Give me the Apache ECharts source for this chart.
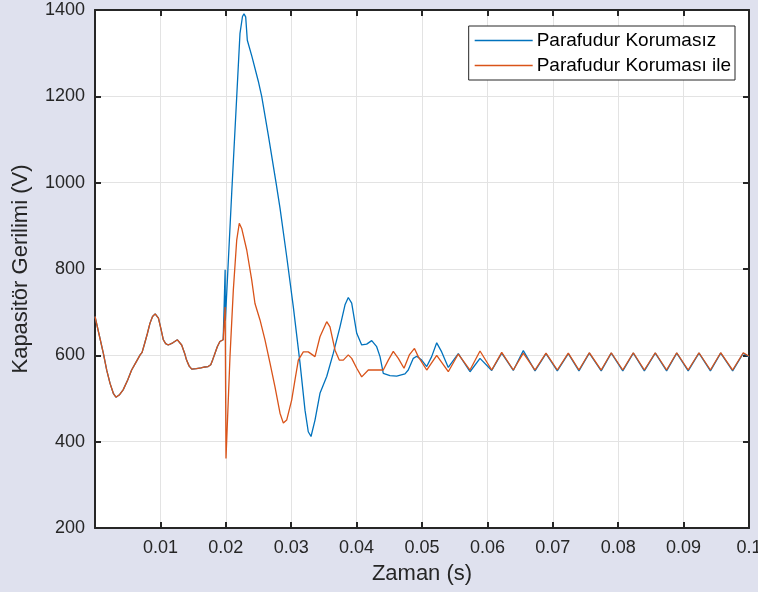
<!DOCTYPE html>
<html>
<head>
<meta charset="utf-8">
<script src="https://cdn.jsdelivr.net/npm/echarts@6/dist/echarts.min.js"></script>
<style>
html,body{margin:0;padding:0;background:#dfe1ee;}
#c{width:758px;height:592px;}
</style>
</head>
<body>
<div id="c"></div>
<script>
// ---- data (time in s, voltage in V) ----
var seriesNames = ['Parafudur Korumasız', 'Parafudur Koruması ile'];
var xTicks = [0, 0.01, 0.02, 0.03, 0.04, 0.05, 0.06, 0.07, 0.08, 0.09, 0.1];
var yTicks = [200, 400, 600, 800, 1000, 1200, 1400];

// shared part before the disturbance (both curves identical)
var sharedPart = [
  [0,690],[0.0006,650],[0.00127,605],[0.0018,565],[0.0023,535],[0.0028,512],[0.0032,503],
  [0.0037,508],[0.0043,520],[0.005,543],[0.0056,566],[0.0063,585],[0.0069,601],[0.0072,607],
  [0.0076,628],[0.008,650],[0.0084,674],[0.0088,690],[0.0092,696],[0.0097,686],[0.0101,660],
  [0.01045,636],[0.0108,627],[0.0112,624],[0.0119,629],[0.0126,636],[0.0129,632],[0.01325,624],
  [0.0137,605],[0.014,589],[0.0144,575],[0.0148,568],[0.0155,569],[0.0162,571],[0.0168,573],
  [0.0173,574],[0.0177,578],[0.018,590],[0.01835,605],[0.0187,620],[0.0191,632],[0.0196,636],
  [0.0198,632],[0.01985,636]
];

// without arrester (blue) after the disturbance
var blueTransient = [
  [0.0199,798],[0.01993,680],[0.02003,678],[0.0209,975],[0.02167,1199],[0.02217,1346],
  [0.02255,1385],[0.02278,1391],[0.02304,1384],[0.02329,1330],[0.024,1292],[0.02497,1235],
  [0.02549,1200],[0.0265,1110],[0.02768,1000],[0.02829,941],[0.02931,829],[0.03032,713],
  [0.03135,582],[0.03211,473],[0.03261,423],[0.03303,412],[0.03364,450],[0.0344,512],
  [0.03543,551],[0.03644,605],[0.03746,666],[0.03823,717],[0.03873,734],[0.03925,721],
  [0.04002,651],[0.04078,624],[0.04154,626],[0.04231,634],[0.04307,620],[0.04358,597],
  [0.04408,558],[0.0451,553],[0.04613,552],[0.0474,557],[0.0479,566],[0.04867,593],
  [0.04919,598],[0.04995,589],[0.05072,574],[0.05148,597],[0.05225,629],[0.05301,608]
];
var blueSteady = [
  [0.05402,572],[0.05555,604],[0.05734,562],[0.05887,593],[0.06066,565],[0.06219,605],
  [0.06396,565],[0.06549,611],[0.06728,564],[0.06896,604],[0.07069,564],[0.07237,604],
  [0.074,564],[0.07558,605],[0.0774,564],[0.07894,605],[0.0807,564],[0.08231,605],
  [0.084,564],[0.08567,605],[0.0874,564],[0.08895,605],[0.0907,564],[0.09235,605],
  [0.0941,564],[0.09567,605],[0.0975,564],[0.09913,605],[0.1,596]
];

// with arrester (orange) after the disturbance
var orangeTransient = [
  [0.0199,712],[0.02003,361],[0.02064,597],[0.02115,751],[0.02167,867],[0.02206,906],
  [0.02243,894],[0.0232,844],[0.02396,775],[0.02446,720],[0.02523,682],[0.02599,636],
  [0.02676,582],[0.02752,527],[0.02829,466],[0.0288,443],[0.02931,450],[0.03008,497],
  [0.03058,543],[0.03109,589],[0.03185,608],[0.03261,608],[0.03364,597],[0.0344,643],
  [0.03543,678],[0.03593,666],[0.0367,612],[0.03735,589],[0.03797,589],[0.03873,601],
  [0.03925,593],[0.04002,570],[0.04078,550],[0.04179,566],[0.04307,566],[0.04408,566],
  [0.04485,589],[0.04561,609],[0.04638,593],[0.04725,570],[0.04806,601],[0.04885,616],
  [0.04943,597],[0.05072,566],[0.05225,600]
];
var orangeSteady = [
  [0.05402,562],[0.05555,603],[0.05734,566],[0.05887,610],[0.06066,566],[0.06219,607],
  [0.06396,566],[0.06549,605],[0.06728,566],[0.06896,605],[0.07069,566],[0.07237,605],
  [0.074,566],[0.07558,606],[0.0774,566],[0.07894,606],[0.0807,566],[0.08231,606],
  [0.084,566],[0.08567,606],[0.0874,566],[0.08895,606],[0.0907,566],[0.09235,606],
  [0.0941,566],[0.09567,606],[0.0975,566],[0.09913,606],[0.1,598]
];

var blueData = sharedPart.concat(blueTransient, blueSteady);
var orangeData = sharedPart.concat(orangeTransient, orangeSteady);

var axisColor = '#262626';
var font = 'Liberation Sans, Arial, Helvetica, sans-serif';
var xMin = xTicks[0], xMax = xTicks[xTicks.length-1];
var yMin = yTicks[0], yMax = yTicks[yTicks.length-1];

var chart = echarts.init(document.getElementById('c'), null, {renderer:'canvas'});
chart.setOption({
  animation: false,
  backgroundColor: '#dfe1ee',
  grid: {left: 95, right: 9, top: 10, bottom: 64, containLabel: false, outerBoundsMode: 'none',
         show: true, backgroundColor: '#ffffff', borderWidth: 0},
  legend: {
    orient: 'vertical', right: 23, top: 26, icon: 'rect',
    backgroundColor: '#ffffff', borderColor: axisColor, borderWidth: 1, borderRadius: 0,
    padding: [5, 4, 5, 6], itemGap: 6, itemWidth: 58, itemHeight: 1.5,
    textStyle: {fontFamily: font, fontSize: 19, color: '#000', padding: [0, 0, 0, -1]},
    data: seriesNames
  },
  xAxis: [{
    type: 'value', min: xMin, max: xMax, interval: 0.01, position: 'bottom',
    name: 'Zaman (s)', nameLocation: 'middle', nameGap: 35,
    nameTextStyle: {fontFamily: font, fontSize: 22, color: axisColor},
    axisLine: {show: true, onZero: false, lineStyle: {color: axisColor, width: 2}},
    axisTick: {show: true, inside: true, length: 6, lineStyle: {color: axisColor, width: 2}},
    axisLabel: {fontFamily: font, fontSize: 18, color: axisColor, margin: 11, hideOverlap: false,
      formatter: function(v){ return v === 0 ? '' : String(+v.toFixed(2)); }},
    splitLine: {show: true, lineStyle: {color: '#e3e3e3', width: 1}}
  },{
    type: 'value', min: xMin, max: xMax, interval: 0.01, position: 'top',
    axisLine: {show: true, onZero: false, lineStyle: {color: axisColor, width: 2}},
    axisTick: {show: true, inside: true, length: 6, lineStyle: {color: axisColor, width: 2}},
    axisLabel: {show: false}, splitLine: {show: false}
  }],
  yAxis: [{
    type: 'value', min: yMin, max: yMax, interval: 200, position: 'left',
    name: 'Kapasitör Gerilimi (V)', nameLocation: 'middle', nameGap: 63,
    nameTextStyle: {fontFamily: font, fontSize: 22, color: axisColor},
    axisLine: {show: true, onZero: false, lineStyle: {color: axisColor, width: 2}},
    axisTick: {show: true, inside: true, length: 6, lineStyle: {color: axisColor, width: 2}},
    axisLabel: {fontFamily: font, fontSize: 18, color: axisColor, margin: 10,
      formatter: function(v){ return String(v); }},
    splitLine: {show: true, lineStyle: {color: '#e3e3e3', width: 1}}
  },{
    type: 'value', min: yMin, max: yMax, interval: 200, position: 'right',
    axisLine: {show: true, onZero: false, lineStyle: {color: axisColor, width: 2}},
    axisTick: {show: true, inside: true, length: 6, lineStyle: {color: axisColor, width: 2}},
    axisLabel: {show: false}, splitLine: {show: false}
  }],
  series: [{
    name: seriesNames[0], type: 'line', data: blueData, xAxisIndex: 0, yAxisIndex: 0,
    symbol: 'none', showSymbol: false, sampling: null, smooth: false,
    lineStyle: {color: '#0072BD', width: 1.3}, itemStyle: {color: '#0072BD'}, z: 2
  },{
    name: seriesNames[1], type: 'line', data: orangeData, xAxisIndex: 0, yAxisIndex: 0,
    symbol: 'none', showSymbol: false, sampling: null, smooth: false,
    lineStyle: {color: '#D95319', width: 1.3}, itemStyle: {color: '#D95319'}, z: 3
  }]
});
</script>
</body>
</html>
